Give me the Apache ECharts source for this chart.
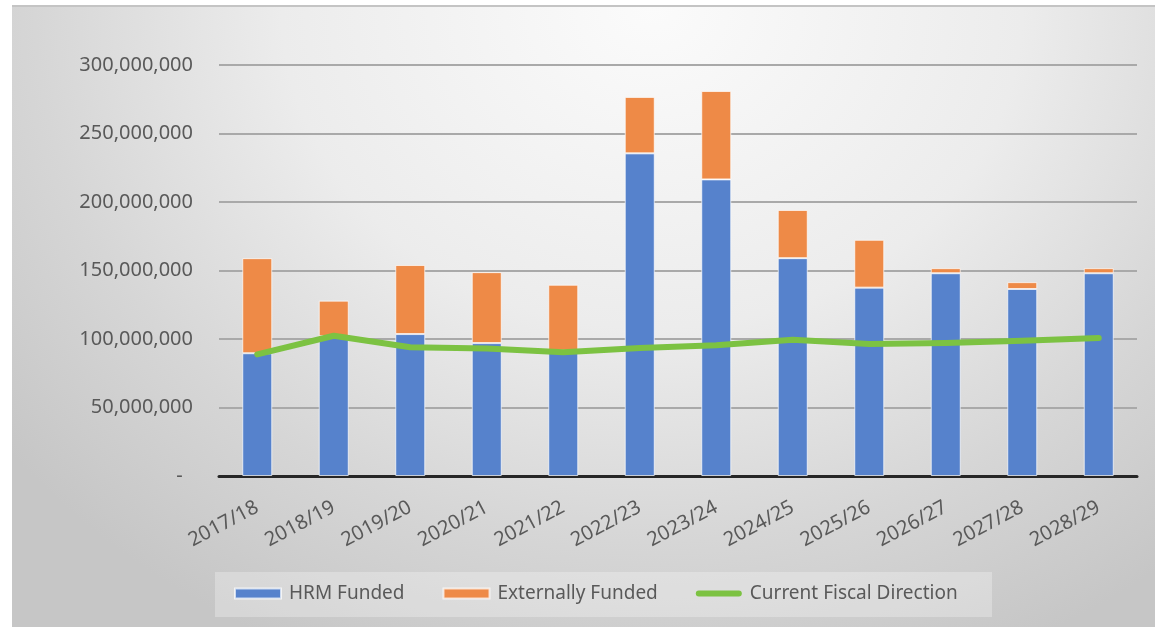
<!DOCTYPE html>
<html>
<head>
<meta charset="utf-8">
<script src="https://cdn.jsdelivr.net/npm/echarts@6/dist/echarts.min.js"></script>
<style>
  html, body { margin: 0; padding: 0; background: #ffffff; width: 1155px; height: 627px; overflow: hidden; }
  #wrap { position: absolute; left: 12px; top: 5px; width: 1143px; height: 622px;
    border-top: 2px solid #c4c4c4; box-sizing: border-box;
    background: radial-gradient(ellipse 72% 115% at 56% 0%, #fbfbfb 0%, #ececec 45%, #d6d6d6 75%, #c6c6c6 100%); }
  #chart { position: absolute; left: 0; top: -2px; width: 1143px; height: 622px; }
</style>
</head>
<body>
<div id="wrap"><div id="chart"></div></div>
<script>
const categories = ['2017/18','2018/19','2019/20','2020/21','2021/22','2022/23','2023/24','2024/25','2025/26','2026/27','2027/28','2028/29'];
const hrmFunded = [89600000, 102000000, 103600000, 97000000, 91500000, 235500000, 216500000, 159000000, 137500000, 148000000, 136500000, 148000000];
const externallyFunded = [69400000, 26000000, 50400000, 51800000, 48100000, 41200000, 64500000, 35200000, 34900000, 3700000, 5000000, 3700000];
const fiscalDirection = [88800000, 102400000, 94000000, 93000000, 90300000, 93400000, 95400000, 99500000, 96300000, 97000000, 98800000, 100700000];
const yTicks = { min: 0, max: 300000000, interval: 50000000 };

const chart = echarts.init(document.getElementById('chart'), null, { renderer: 'canvas' });
const font = 'Noto Sans';
chart.setOption({
  backgroundColor: 'transparent',
  animation: false,
  textStyle: { fontFamily: font },
  grid: { left: 207, right: 18, top: 60, bottom: 151, containLabel: false },
  graphic: [{
    type: 'rect', left: 203, top: 567, shape: { width: 777, height: 45 },
    style: { fill: 'rgba(255,255,255,0.28)' }, z: 0
  }],
  legend: {
    left: 217, top: 574,
    itemWidth: 46, itemHeight: 10, itemGap: 38,
    symbolKeepAspect: true,
    textStyle: { fontFamily: font, fontSize: 19, color: '#595959', padding: [0, 0, 0, 3] },
    data: [
      { name: 'HRM Funded', icon: 'rect' },
      { name: 'Externally Funded', icon: 'rect' },
      { name: 'Current Fiscal Direction',
        icon: 'path://M3,0 L43,0 A3,3 0 0 1 43,6 L3,6 A3,3 0 0 1 3,0 Z',
        itemStyle: { color: '#7cc242', borderWidth: 0 } }
    ]
  },
  xAxis: {
    type: 'category',
    data: categories,
    axisLine: { lineStyle: { color: '#262626', width: 3 } },
    axisTick: { show: false },
    axisLabel: { rotate: 28, margin: 30, fontSize: 20, color: '#595959', fontFamily: font, interval: 0 }
  },
  yAxis: {
    type: 'value',
    min: yTicks.min, max: yTicks.max, interval: yTicks.interval,
    axisLine: { show: false },
    axisTick: { show: false },
    splitLine: { lineStyle: { color: '#a9a9a9', width: 2 } },
    axisLabel: {
      margin: 26, fontSize: 20, color: '#595959', fontFamily: font,
      formatter: function (v) { return v === 0 ? '-  ' : v.toLocaleString('en-US'); }
    }
  },
  series: [
    {
      name: 'HRM Funded', type: 'bar', stack: 'total', data: hrmFunded, barWidth: 30,
      itemStyle: { color: '#5682cc', borderColor: 'rgba(255,255,255,0.7)', borderWidth: 1 }
    },
    {
      name: 'Externally Funded', type: 'bar', stack: 'total', data: externallyFunded, barWidth: 30,
      itemStyle: { color: '#ee8a47', borderColor: 'rgba(255,255,255,0.7)', borderWidth: 1 }
    },
    {
      name: 'Current Fiscal Direction', type: 'line', data: fiscalDirection,
      showSymbol: false, symbol: 'none', z: 5,
      lineStyle: { color: '#7cc242', width: 6, cap: 'round', join: 'round' },
      itemStyle: { color: '#7cc242' }
    }
  ]
});
</script>
</body>
</html>
